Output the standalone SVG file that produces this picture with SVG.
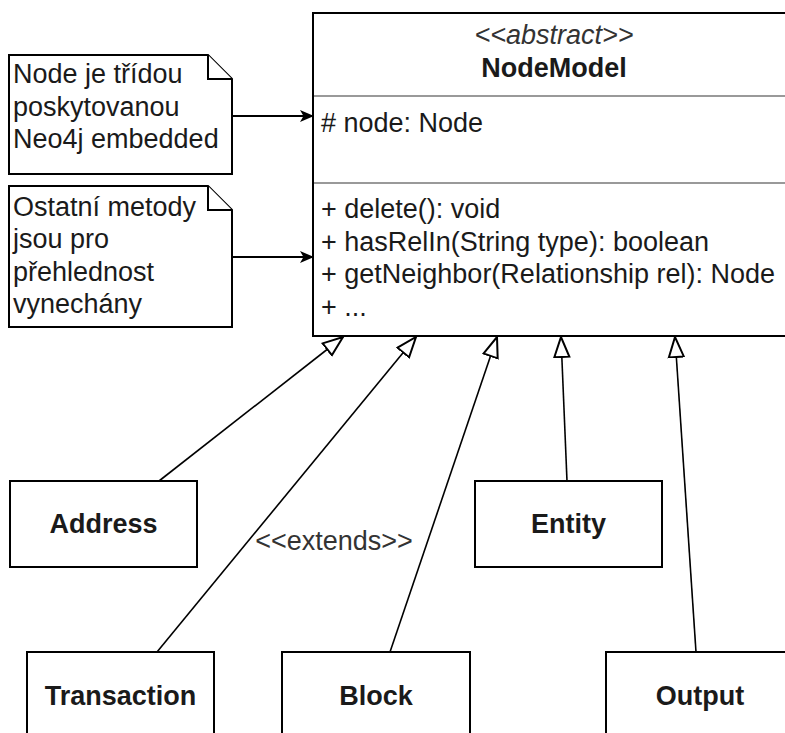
<svg xmlns="http://www.w3.org/2000/svg" width="785" height="733" viewBox="0 0 785 733">
<style>
  text { font-family: "Liberation Sans", Arial, sans-serif; font-size: 27px; fill: #1a1a1a; }
  .b { font-weight: bold; text-anchor: middle; }
  .it { font-style: italic; text-anchor: middle; fill: #333; }
  .box { fill: #fff; stroke: #000; stroke-width: 2; }
  .div { stroke: #999; stroke-width: 2; fill: none; }
  .note { fill: #fff; stroke: #000; stroke-width: 2; stroke-linejoin: miter; }
  .gen { stroke: #000; stroke-width: 1.6; fill: none; marker-end: url(#hollow); }
  .ref { stroke: #000; stroke-width: 2; fill: none; marker-end: url(#filled); }
  .lbl { fill: #333; text-anchor: middle; }
</style>
<defs>
  <marker id="hollow" viewBox="0 0 22 18" refX="21" refY="9" markerWidth="22" markerHeight="18" markerUnits="userSpaceOnUse" orient="auto">
    <path d="M1,1.5 L21,9 L1,16.5 Z" fill="#fff" stroke="#000" stroke-width="2"/>
  </marker>
  <marker id="filled" viewBox="0 0 14 12" refX="13" refY="6" markerWidth="14" markerHeight="12" markerUnits="userSpaceOnUse" orient="auto">
    <path d="M0,0 L14,6 L0,12 L3.5,6 Z" fill="#000"/>
  </marker>
</defs>
<rect width="785" height="733" fill="#fff"/>

<g id="NodeModel">
  <rect class="box" x="313" y="13" width="484" height="323"/>
  <line class="div" x1="314" y1="96" x2="785" y2="96"/>
  <line class="div" x1="314" y1="183" x2="785" y2="183"/>
  <text class="it" x="554" y="44">&lt;&lt;abstract&gt;&gt;</text>
  <text class="b" x="554" y="77">NodeModel</text>
  <text x="321" y="132"># node: Node</text>
  <text x="321" y="218">+ delete(): void</text>
  <text x="321" y="251">+ hasRelIn(String type): boolean</text>
  <text x="321" y="283">+ getNeighbor(Relationship rel): Node</text>
  <text x="321" y="316">+ ...</text>
</g>

<g id="note1">
  <path class="note" d="M9,55 H208 L232,79 V174 H9 Z"/>
  <path class="note" d="M208,55 V79 H232"/>
  <text x="13" y="83">Node je třídou</text>
  <text x="13" y="116">poskytovanou</text>
  <text x="13" y="148">Neo4j embedded</text>
</g>

<g id="note2">
  <path class="note" d="M9,186 H208 L232,210 V327 H9 Z"/>
  <path class="note" d="M208,186 V210 H232"/>
  <text x="13" y="216">Ostatní metody</text>
  <text x="13" y="248">jsou pro</text>
  <text x="13" y="281">přehlednost</text>
  <text x="13" y="313">vynechány</text>
</g>

<g id="Address">
  <rect class="box" x="10" y="481" width="187" height="86"/>
  <text class="b" x="103.5" y="533">Address</text>
</g>
<g id="Entity">
  <rect class="box" x="475" y="481" width="187" height="86"/>
  <text class="b" x="568.5" y="533">Entity</text>
</g>
<g id="Transaction">
  <rect class="box" x="27" y="652" width="187" height="90"/>
  <text class="b" x="120.5" y="705">Transaction</text>
</g>
<g id="Block">
  <rect class="box" x="282" y="652" width="188" height="90"/>
  <text class="b" x="376" y="705">Block</text>
</g>
<g id="Output">
  <rect class="box" x="606" y="652" width="188" height="90"/>
  <text class="b" x="700" y="705">Output</text>
</g>

<g id="connectors">
  <line class="ref" x1="233" y1="116" x2="313" y2="116"/>
  <line class="ref" x1="233" y1="257" x2="313" y2="257"/>
  <line class="gen" x1="159" y1="481" x2="343" y2="337"/>
  <line class="gen" x1="157" y1="652" x2="416" y2="337"/>
  <line class="gen" x1="390" y1="652" x2="497" y2="337"/>
  <line class="gen" x1="567" y1="481" x2="561" y2="337"/>
  <line class="gen" x1="696" y1="652" x2="675" y2="337"/>
  <text class="lbl" x="334" y="550">&lt;&lt;extends&gt;&gt;</text>
</g>
</svg>
